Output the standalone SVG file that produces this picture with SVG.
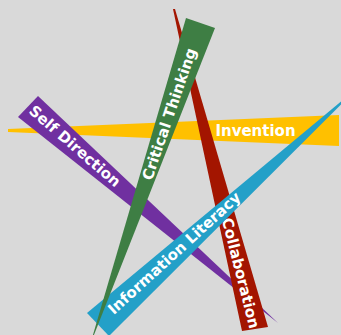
<svg xmlns="http://www.w3.org/2000/svg" width="341" height="335" viewBox="0 0 341 335">
<style>
.lbl{font-family:"DejaVu Sans","Verdana",sans-serif;font-weight:bold;font-size:15px;fill:#ffffff;text-anchor:middle}
</style>
<rect x="0" y="0" width="341" height="335" fill="#d9d9d9"/>
<g id="invention">
<polygon points="8,129 339,115 339,146 8,132" fill="#ffc000"/>
<text class="lbl" x="255.5" y="130.5" dy="0.36em">Invention</text>
</g>
<g id="self-direction">
<polygon points="18,117 38,96 278,323" fill="#7030a0"/>
<text class="lbl" transform="translate(75,146) rotate(40.9)" x="0" y="0" dy="0.36em">Self Direction</text>
</g>
<g id="collaboration">
<polygon points="173,9 175,9 268,327 242,331" fill="#a31500"/>
<text class="lbl" transform="translate(241,273) rotate(75.8)" x="0" y="0" dy="0.36em">Collaboration</text>
</g>
<g id="information-literacy">
<polygon points="87,313 341,101.5 341,104.5 109,336" fill="#23a0c8"/>
<text class="lbl" transform="translate(174,253) rotate(-42.3)" x="0" y="0" dy="0.36em">Information Literacy</text>
</g>
<g id="critical-thinking">
<polygon points="186,18 215,28 90,345" fill="#3e7e44"/>
<text class="lbl" transform="translate(169,114) rotate(-71.06)" x="0" y="0" dy="0.36em">Critical Thinking</text>
</g>
<g id="connectors"></g>
</svg>
